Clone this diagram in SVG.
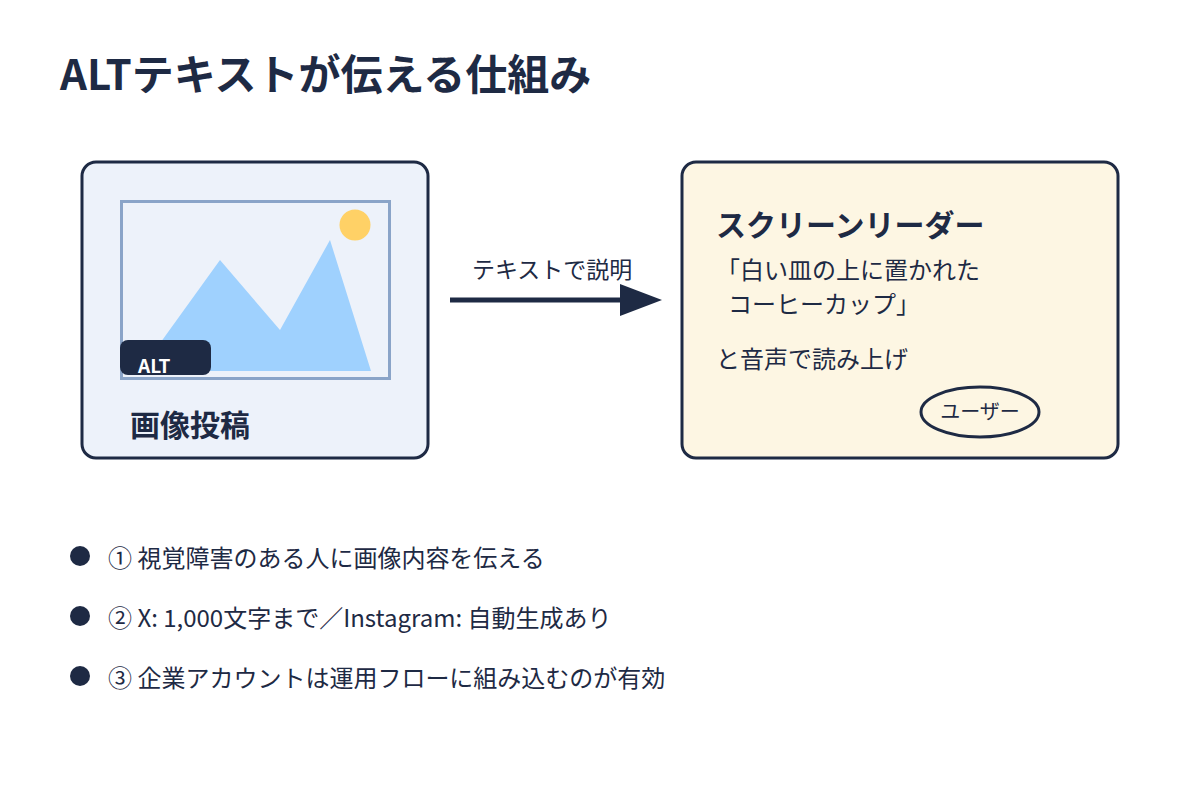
<svg xmlns="http://www.w3.org/2000/svg" width="1200" height="800" viewBox="0 0 1200 800">
<style>
text{font-family:"Noto Sans CJK JP","Noto Sans",sans-serif;fill:#1e2a44}
.b{font-weight:bold}
.box{stroke:#1e2a44;stroke-width:3}
</style>
<rect width="1200" height="800" fill="#fff"/>
<text x="60" y="90" font-size="42" class="b">ALTテキストが伝える仕組み</text>
<g id="image-post">
<rect x="82" y="162" width="346" height="296" rx="14" fill="#edf2fa" class="box"/>
<rect x="121.5" y="201.5" width="268" height="177" fill="none" stroke="#8aa4c8" stroke-width="3"/>
<polygon points="140,371 220,260 280,330 330,240 371,371" fill="#9fd1fe"/>
<circle cx="355" cy="225" r="15.5" fill="#ffd166"/>
<rect x="120" y="340" width="91" height="35" rx="8" fill="#1e2a44"/>
<text x="138" y="373" font-size="19" class="b" style="fill:#fff">ALT</text>
<text x="130" y="436" font-size="30" class="b">画像投稿</text>
</g>
<g id="connectors">
<line x1="450" y1="300" x2="625" y2="300" stroke="#1e2a44" stroke-width="5"/>
<polygon points="620,284 662,300 620,316" fill="#1e2a44"/>
<text x="472" y="278" font-size="23">テキストで説明</text>
</g>
<g id="screen-reader">
<rect x="682" y="162" width="436" height="296" rx="14" fill="#fdf6e3" class="box"/>
<text x="716" y="236" font-size="30" class="b">スクリーンリーダー</text>
<text x="716" y="279" font-size="24">「白い皿の上に置かれた</text>
<text x="728" y="313" font-size="24">コーヒーカップ」</text>
<text x="716" y="368" font-size="24">と音声で読み上げ</text>
<ellipse cx="980" cy="412" rx="59" ry="25" fill="none" stroke="#1e2a44" stroke-width="3"/>
<text x="980" y="419" font-size="20" text-anchor="middle">ユーザー</text>
</g>
<g id="bullets">
<circle cx="80" cy="556" r="10" fill="#1e2a44"/>
<text x="108" y="567" font-size="24">① 視覚障害のある人に画像内容を伝える</text>
<circle cx="80" cy="616" r="10" fill="#1e2a44"/>
<text x="108" y="627" font-size="24">② X: 1,000文字まで／Instagram: 自動生成あり</text>
<circle cx="80" cy="676" r="10" fill="#1e2a44"/>
<text x="108" y="687" font-size="24">③ 企業アカウントは運用フローに組み込むのが有効</text>
</g>
</svg>
